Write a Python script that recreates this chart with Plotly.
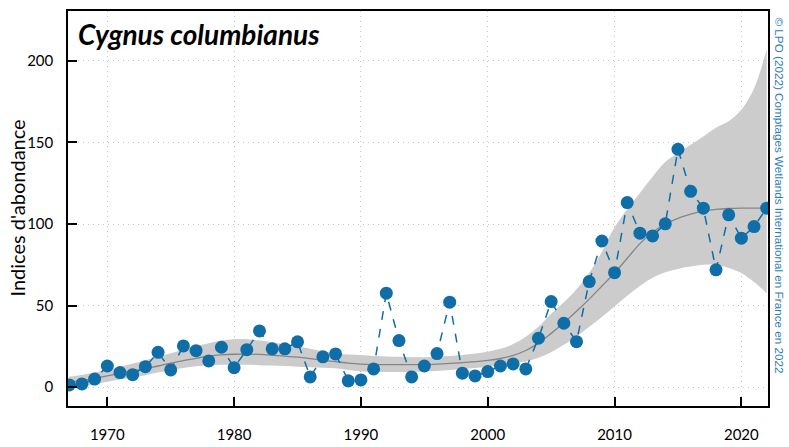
import plotly.graph_objects as go

years = list(range(1967, 2023))

indices = [1.4, 2, 5, 13, 9, 7.7, 12.6, 21.4, 10.6, 25.3,
           22.4, 16.1, 24.5, 12, 23, 34.5, 23.5, 23.5, 27.8, 6.3,
           18.6, 20.4, 3.9, 4.5, 11.2, 57.6, 28.6, 6.3, 13, 20.6,
           52.1, 8.6, 6.9, 9.6, 13, 14.3, 11.2, 30, 52.5, 39.2,
           27.9, 64.7, 89.6, 70.2, 113.1, 94.4, 92.7, 100.1, 145.8, 120,
           109.7, 71.9, 105.6, 91.3, 98.4, 109.7]

trend = [3, 4, 5.5, 7, 8.5, 10, 11.5, 13, 14.7, 16.3,
         17.7, 19, 19.8, 20.2, 20.3, 20.1, 19.6, 19, 18.4, 17.5,
         16.5, 15.7, 14.8, 14.2, 13.9, 13.8, 13.8, 13.8, 13.9, 14.2,
         14.6, 15.1, 15.7, 16.4, 17.6, 19.5, 22.5, 27, 33, 39.5,
         46.5, 54, 62, 70, 79, 88, 95, 100, 103.5, 106,
         108, 109, 109.5, 109.7, 109.7, 109.8]

upper = [6.5, 7.5, 9, 10.6, 12.5, 14.5, 16.5, 18.7, 20.8, 23,
         25.2, 27, 28.6, 29.4, 29.4, 28.6, 27.5, 26.2, 24.9, 23.5,
         22, 20.8, 20, 19.7, 19.2, 18.8, 18.6, 18.4, 18.4, 18.7,
         19.1, 19.8, 20.6, 21.8, 23.5, 26.5, 31, 37, 45, 52,
         60, 70, 83, 98, 109, 119, 129, 138, 143.5, 148.5,
         153.6, 159, 163, 170, 183, 207]

lower = [0.4, 1, 2, 3.4, 4.7, 6, 7.4, 9, 10.6, 11.8,
         12.8, 13.4, 13.7, 13.7, 13.7, 13.5, 13.3, 13, 12.6, 12.2,
         11.9, 11.6, 10.5, 9.6, 9.4, 9.3, 9.3, 9.4, 9.6, 10,
         10.5, 11.1, 11.8, 12.6, 13.4, 14.6, 15.7, 18, 21.5, 26,
         31, 37, 43, 49.4, 56, 62, 67, 70.5, 72.5, 74,
         75, 75, 73, 70, 64.5, 57.6]

x_ticks = [1970, 1980, 1990, 2000, 2010, 2020]
y_ticks = [0, 50, 100, 150, 200]

title_text = "Cygnus columbianus"
ylabel = "Indices d'abondance"
credit = "© LPO (2022) Comptages Wetlands International en France en 2022"

blue = "#0f6ea8"
font_main = "Lato, 'Open Sans', sans-serif"

fig = go.Figure()
fig.add_trace(go.Scatter(x=years, y=upper, mode="lines", line=dict(width=0, shape="spline"),
                         hoverinfo="skip", showlegend=False))
fig.add_trace(go.Scatter(x=years, y=lower, mode="lines", line=dict(width=0, shape="spline"),
                         fill="tonexty", fillcolor="#cccccc", hoverinfo="skip", showlegend=False))
fig.add_trace(go.Scatter(x=years, y=trend, mode="lines",
                         line=dict(color="#858585", width=1.3, shape="spline"), showlegend=False))
fig.add_trace(go.Scatter(x=years, y=indices, mode="lines+markers",
                         line=dict(color=blue, width=1.5, dash="dash"),
                         marker=dict(color=blue, size=13, symbol="circle"), showlegend=False))

grid_style = dict(showgrid=True, gridcolor="#c4c4c4", griddash="1px,4px", gridwidth=1)

fig.update_layout(
    width=789, height=447,
    margin=dict(l=68, r=21, t=11, b=41),
    paper_bgcolor="white", plot_bgcolor="white",
    font=dict(family=font_main, color="black", size=15),
    xaxis=dict(range=[1966.9, 2022.1], tickvals=x_ticks, ticks="inside", ticklen=9,
               tickcolor="black", tickwidth=1.5, automargin=False, **grid_style,
               showline=True, linecolor="black", linewidth=1.5, mirror=True,
               zeroline=False, ticklabelstandoff=14, tickfont=dict(size=15)),
    yaxis=dict(range=[-11.5, 230.5], tickvals=y_ticks, ticks="inside", ticklen=9,
               tickcolor="black", tickwidth=1.5, automargin=False, **grid_style,
               showline=True, linecolor="black", linewidth=1.5, mirror=True,
               zeroline=False, ticklabelstandoff=10, tickfont=dict(size=15)),
    annotations=[
        dict(text="<b><i>" + title_text + "</i></b>", xref="paper", yref="paper",
             x=0.012, y=0.99, xanchor="left", yanchor="top", showarrow=False,
             font=dict(size=28, family=font_main, color="black")),
        dict(text=ylabel, xref="paper", yref="paper", x=-52 / 700, y=0.5,
             xanchor="center", yanchor="middle", textangle=-90, showarrow=False,
             font=dict(size=20, family=font_main, color="black")),
        dict(text=credit, xref="paper", yref="paper", x=(779 - 68) / 700, y=(406 - 195.5) / 395,
             xanchor="center", yanchor="middle", textangle=90, showarrow=False,
             font=dict(size=11.7, family="'Liberation Sans', Arial, sans-serif", color="#2a7db8")),
    ],
)

fig.write_html("out.html", config={"displayModeBar": False},
               post_script="document.body.style.margin='0px';")
